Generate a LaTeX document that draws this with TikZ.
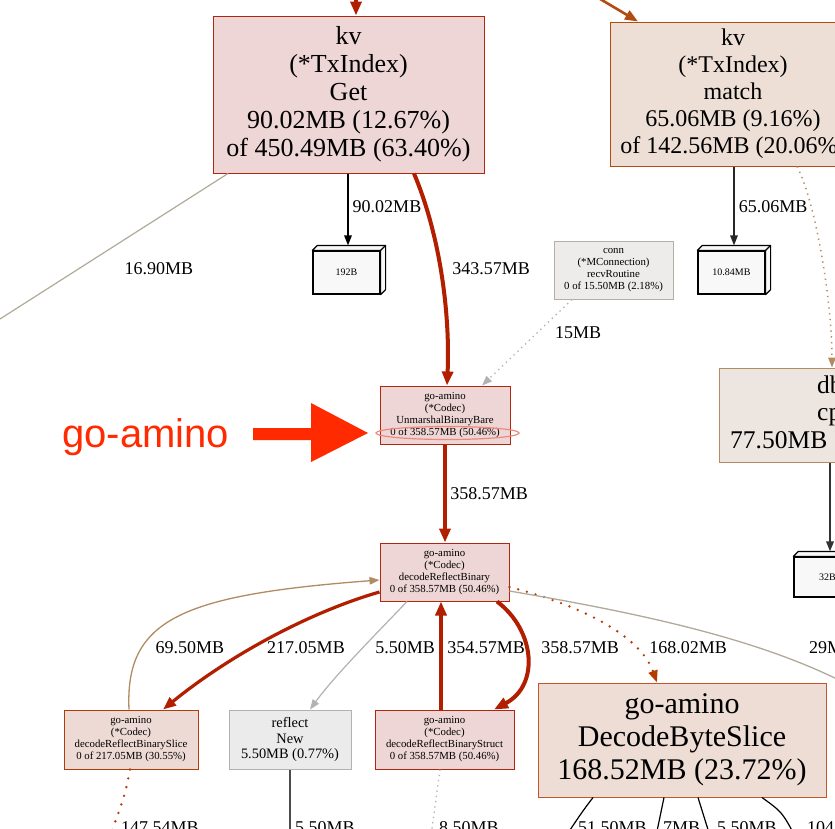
\documentclass[tikz,border=0pt]{standalone}
\usepackage{fontspec}
\setmainfont{Liberation Serif}
\newfontfamily\arialfont{Liberation Sans}
\usetikzlibrary{arrows.meta}
\definecolor{redfill}{HTML}{EDD6D5}
\definecolor{redline}{HTML}{B2260F}
\definecolor{rededge}{HTML}{B21F00}
\definecolor{orfill}{HTML}{EDDFD6}
\definecolor{orline}{HTML}{B24B10}
\definecolor{slicefill}{HTML}{EDDAD5}
\definecolor{sliceline}{HTML}{B23B0A}
\definecolor{dbsfill}{HTML}{EDDDD5}
\definecolor{dbsline}{HTML}{C0582A}
\definecolor{greyfill}{HTML}{EBEBEB}
\definecolor{greyline}{HTML}{B2B2B2}
\definecolor{connfill}{HTML}{EDECEB}
\definecolor{connline}{HTML}{B2AFA8}
\definecolor{dbfill}{HTML}{EDE6E0}
\definecolor{dbline}{HTML}{B28B62}
\definecolor{tanedge}{HTML}{B28B62}
\definecolor{tanlight}{HTML}{B2AA99}
\definecolor{amred}{HTML}{FF2A00}
\definecolor{ellcol}{HTML}{F0887A}
\definecolor{boxfill}{HTML}{F8F8F8}
\definecolor{dotred}{HTML}{B23C00}
\begin{document}
\begin{tikzpicture}[x=1pt,y=-1pt,
  fnode/.style={rectangle, draw, align=center, inner sep=0pt, line width=1pt},
  big/.style={font=\fontsize{26}{28}\selectfont},
  small/.style={font=\fontsize{10.8}{12}\selectfont},
  elab/.style={inner sep=0pt, font=\fontsize{18}{20}\selectfont},
  bx/.style={rectangle, draw=black, fill=boxfill, line width=1.2pt, minimum width=67pt, inner sep=0pt, font=\fontsize{10}{12}\selectfont},
  tipthin/.style={-{Triangle[length=10pt,width=7.5pt]}},
  tipthick/.style={-{Triangle[length=14pt,width=11pt]}},
  redthick/.style={draw=rededge, line width=4pt, tipthick},
  redmid/.style={draw=rededge, line width=3.2pt, -{Triangle[length=13pt,width=10pt]}},
  blk/.style={draw=black, line width=1.4pt, tipthin},
  greydot/.style={draw=greyline, line width=1.3pt, dash pattern=on 1.3pt off 4pt, tipthin},
  tandot/.style={draw=tanedge, line width=1.5pt, dash pattern=on 1.3pt off 4.5pt, tipthin},
  reddot/.style={draw=dotred, line width=2.6pt, line cap=round, dash pattern=on 0pt off 9pt, -{Triangle[length=12pt,width=9pt]}},
  dbtext/.style={anchor=base west, inner sep=0pt, font=\fontsize{25.5}{28}\selectfont},
]
\path[use as bounding box] (0,0) rectangle (835,828);
\clip (0,0) rectangle (835,828);
\fill[white] (0,0) rectangle (835,828);

% ---------- nodes ----------
\node[fnode, big, fill=redfill, draw=redline, minimum width=271pt, minimum height=157pt] (kvget) at (348.5,94.5)
  {kv\\(*TxIndex)\\Get\\90.02MB (12.67\%)\\of 450.49MB (63.40\%)};
\node[fnode, font=\fontsize{24}{27}\selectfont, fill=orfill, draw=orline, minimum width=246pt, minimum height=144pt] (kvmatch) at (733,94)
  {kv\\(*TxIndex)\\match\\65.06MB (9.16\%)\\of 142.56MB (20.06\%)};
\node[fnode, small, fill=connfill, draw=connline, minimum width=119pt, minimum height=58pt] (conn) at (613.5,270)
  {conn\\(*MConnection)\\recvRoutine\\0 of 15.50MB (2.18\%)};
\node[bx, minimum height=43pt] (b192) at (346.5,272.5) {192B};
\node[bx, minimum height=43pt] (b1084) at (731.5,272.5) {10.84MB};
\node[bx, minimum height=40pt] (b32) at (827.5,577) {32B};
\foreach \b in {b192,b1084,b32}{
  \filldraw[fill=boxfill, draw=black, line width=1.2pt, line join=round]
    (\b.north west) -- ++(5,-5) -- ([shift={(5,-5)}]\b.north east) -- ([shift={(5,-5)}]\b.south east)
    -- (\b.south east) -- (\b.north east) -- cycle;
  \draw[black, line width=1.2pt] (\b.north east) -- ++(5,-5);
}
\coordinate (b192top) at ([yshift=5pt]b192.north);
\coordinate (b1084top) at ([yshift=5pt]b1084.north);
\coordinate (b32top) at ([yshift=5pt]b32.north);

\node[fnode, fill=dbfill, draw=dbline, minimum width=230pt, minimum height=94pt] (db) at (834,415) {};
\node[dbtext] (dbt1) at (817,393) {db};
\node[dbtext] (dbt2) at (817,420) {cp};
\node[dbtext] (dbt3) at (730,448) {77.50MB};

\node[fnode, small, fill=redfill, draw=redline, minimum width=130pt, minimum height=58pt] (unm) at (445,415)
  {go-amino\\(*Codec)\\UnmarshalBinaryBare\\0 of 358.57MB (50.46\%)};
\node[fnode, small, fill=redfill, draw=redline, minimum width=129pt, minimum height=58pt] (drb) at (444.5,572)
  {go-amino\\(*Codec)\\decodeReflectBinary\\0 of 358.57MB (50.46\%)};
\node[fnode, small, fill=slicefill, draw=sliceline, minimum width=134pt, minimum height=59pt] (drbs) at (131,739.5)
  {go-amino\\(*Codec)\\decodeReflectBinarySlice\\0 of 217.05MB (30.55\%)};
\node[fnode, font=\fontsize{14.4}{15.8}\selectfont, fill=greyfill, draw=greyline, minimum width=122pt, minimum height=59pt] (rnew) at (290,739.5)
  {reflect\\New\\5.50MB (0.77\%)};
\node[fnode, small, fill=redfill, draw=redline, minimum width=139pt, minimum height=59pt] (drbst) at (444.5,739.5)
  {go-amino\\(*Codec)\\decodeReflectBinaryStruct\\0 of 358.57MB (50.46\%)};
\node[fnode, font=\fontsize{30}{33}\selectfont, fill=dbsfill, draw=dbsline, minimum width=288pt, minimum height=114pt] (dbs) at (682,740)
  {go-amino\\DecodeByteSlice\\168.52MB (23.72\%)};

% annotation
\node[anchor=base west, inner sep=0pt, text=amred, font=\arialfont\fontsize{40}{44}\selectfont] (ann) at (62,447) {go-amino};
\fill[amred] (253,428) -- (311,428) -- (311,403) -- (368,433) -- (311,462) -- (311,440) -- (253,440) -- cycle;
\draw[ellcol, line width=1.2pt] (447.5,433) ellipse [x radius=71.5pt, y radius=6.5pt];

% ---------- off-picture ends ----------
\coordinate (topin) at (356,-12);
\coordinate (mtopin) at (585,-10);
\coordinate (offl) at (0,319);
\coordinate (offr) at (845,683);
\coordinate (ob1) at (110,836);
\coordinate (ob2) at (290,836);
\coordinate (ob3) at (431,836);
\coordinate (ob4) at (566,836);
\coordinate (ob5) at (656,836);
\coordinate (ob6) at (710,836);
\coordinate (ob7) at (795,836);

% ---------- edges ----------
\draw[redthick] (topin) -- (356,0 |- kvget.north);
\draw[draw=orline, line width=2.6pt, -{Triangle[length=13pt,width=10pt]}] (mtopin) -- (638,0 |- kvmatch.north);
\draw[blk] (348,0 |- kvget.south) -- (348,0 |- b192top);
\draw[redthick] (414,0 |- kvget.south) .. controls (442,240) and (450,320) .. (447,0 |- unm.north);
\draw[tanlight, line width=1.2pt] (228,0 |- kvget.south) -- (offl);
\draw[greydot] (572,0 |- conn.south) -- (482,0 |- unm.north);
\draw[blk, draw=black!85] (734,0 |- kvmatch.south) -- (734,0 |- b1084top);
\draw[tandot] (797,0 |- kvmatch.south) .. controls (815,200) and (832,300) .. (832,0 |- db.north);
\draw[blk, draw=black!80, line width=1.8pt] (830,0 |- db.south) -- (830,0 |- b32top);
\draw[redthick] (445,0 |- unm.south) -- (445,0 |- drb.north);

\draw[draw=tanedge, line width=1.3pt, tipthin] (129,0 |- drbs.north) .. controls (125,620) and (180,595) .. (drb.west |- 0,580);
\draw[redmid] (drb.west |- 0,592) .. controls (310,612) and (230,655) .. (163,0 |- drbs.north);
\draw[draw=greyline, line width=1.2pt, tipthin] (407,0 |- drb.south) .. controls (380,630) and (335,675) .. (310,0 |- rnew.north);
\draw[redthick] (441,0 |- drbst.north) -- (441,0 |- drb.south);
\draw[redthick] (497,0 |- drb.south) .. controls (535,630) and (540,685) .. (494,0 |- drbst.north);
\draw[reddot] (drb.east |- 0,587) .. controls (580,605) and (640,635) .. (657,0 |- dbs.north);
\draw[draw=tanlight, line width=1.3pt] (drb.east |- 0,591) .. controls (650,615) and (760,640) .. (offr);

\draw[draw=dotred, line width=2.6pt, line cap=round, dash pattern=on 0pt off 9pt] (130,0 |- drbs.south) .. controls (125,795) .. (ob1);
\draw[draw=black!70, line width=1.8pt] (290,0 |- rnew.south) -- (ob2);
\draw[draw=greyline, line width=1.3pt, dash pattern=on 1.3pt off 4pt] (440,0 |- drbst.south) -- (ob3);
\draw[black, line width=1.2pt] (593,0 |- dbs.south) .. controls (582,812) .. (ob4);
\draw[black, line width=1.2pt] (664,0 |- dbs.south) -- (ob5);
\draw[black, line width=1.2pt] (698,0 |- dbs.south) -- (ob6);
\draw[black, line width=1.2pt] (762,0 |- dbs.south) .. controls (782,812) .. (ob7);

% ---------- edge labels ----------
\node[elab] (l1) at (387,207) {90.02MB};
\node[elab] (l2) at (491,269) {343.57MB};
\node[elab] (l3) at (159,269) {16.90MB};
\node[elab] (l4) at (773,207) {65.06MB};
\node[elab] (l5) at (578,333) {15MB};
\node[elab] (l6) at (489,494) {358.57MB};
\node[elab] (l7) at (190,648) {69.50MB};
\node[elab] (l8) at (306,648) {217.05MB};
\node[elab] (l9) at (405,648) {5.50MB};
\node[elab] (l10) at (486,648) {354.57MB};
\node[elab] (l11) at (580,648) {358.57MB};
\node[elab] (l12) at (688,648) {168.02MB};
\node[elab, anchor=west] (l13) at (809,648) {29MB};
\node[elab, anchor=north west] (l14) at (121,821) {147.54MB};
\node[elab, anchor=north west] (l15) at (295,821) {5.50MB};
\node[elab, anchor=north west] (l16) at (439,821) {8.50MB};
\node[elab, anchor=north west] (l17) at (578,821) {51.50MB};
\node[elab, anchor=north west] (l18) at (663,821) {7MB};
\node[elab, anchor=north west] (l19) at (717,821) {5.50MB};
\node[elab, anchor=north west] (l20) at (807,821) {104};
\end{tikzpicture}
\end{document}
